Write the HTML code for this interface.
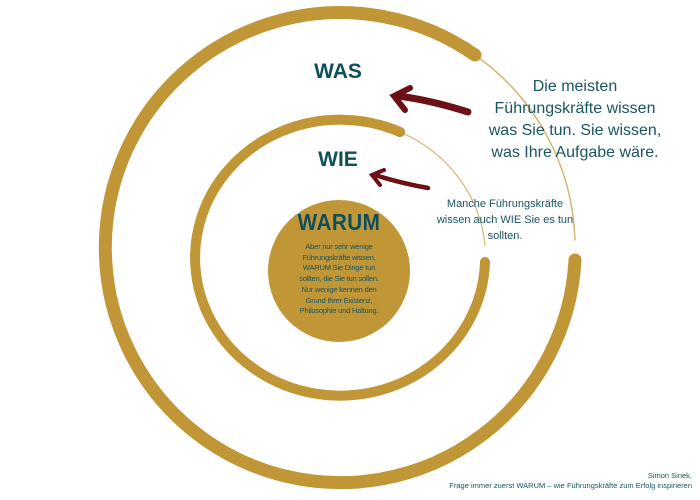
<!DOCTYPE html>
<html><head><style>
body{margin:0;width:700px;height:500px;background:#fff;overflow:hidden;position:relative;font-family:"Liberation Sans",sans-serif;color:#1a5560}
.t{position:absolute;text-align:center}
</style></head><body>
<svg width="700" height="500" style="position:absolute;left:0;top:0">
<g fill="none" stroke="#c09636" stroke-linecap="round">
<path d="M 575 260 A 235 235 0 1 1 475 55" stroke-width="13"/>
<path d="M 475 55 A 235 235 0 0 1 575 240" stroke-width="1.5" opacity="0.7"/>
<path d="M 485 262 A 145 138 0 1 1 400 132" stroke-width="10"/>
<path d="M 400 132 A 145 138 0 0 1 485 245" stroke-width="1.2" opacity="0.7"/>
</g>
<circle cx="339" cy="271" r="71" fill="#c09636"/>
<g stroke="#6b1016" fill="none" stroke-linecap="round">
<path d="M 468 112 Q 430 100 398 96" stroke-width="7"/>
<path d="M 410 88 L 394 96 L 405 110" stroke-width="6"/>
<path d="M 428 188 Q 400 183 375 175" stroke-width="4.5"/>
<path d="M 384 170 L 372 175 L 380 185" stroke-width="4"/>
</g>
</svg>
<div class="t" style="left:288px;top:60px;width:100px;font-size:21px;font-weight:bold;color:#0f4f5c">WAS</div>
<div class="t" style="left:288px;top:148px;width:100px;font-size:21px;font-weight:bold;color:#0f4f5c">WIE</div>
<div class="t" style="left:268px;top:209px;width:142px;font-size:23px;font-weight:bold;color:#0f4f5c;letter-spacing:0.5px;transform:scaleX(0.9)">WARUM</div>
<div class="t" style="left:278px;top:242px;width:122px;font-size:7.5px;line-height:10.7px;letter-spacing:-0.2px">Aber nur sehr wenige<br>Führungskräfte wissen,<br>WARUM Sie Dinge tun<br>sollten, die Sie tun sollen.<br>Nur wenige kennen den<br>Grund Ihrer Existenz,<br>Philosophie und Haltung.</div>
<div class="t" style="left:466px;top:76px;width:218px;font-size:16px;line-height:22px">Die meisten<br>Führungskräfte wissen<br>was Sie tun. Sie wissen,<br>was Ihre Aufgabe wäre.</div>
<div class="t" style="left:425px;top:196px;width:160px;font-size:11px;line-height:16px">Manche Führungskräfte<br>wissen auch WIE Sie es tun<br>sollten.</div>
<div class="t" style="left:380px;top:471px;width:312px;text-align:right;font-size:7.5px;line-height:10px">Simon Sinek,<br>Frage immer zuerst WARUM – wie Führungskräfte zum Erfolg inspirieren</div>
</body></html>
